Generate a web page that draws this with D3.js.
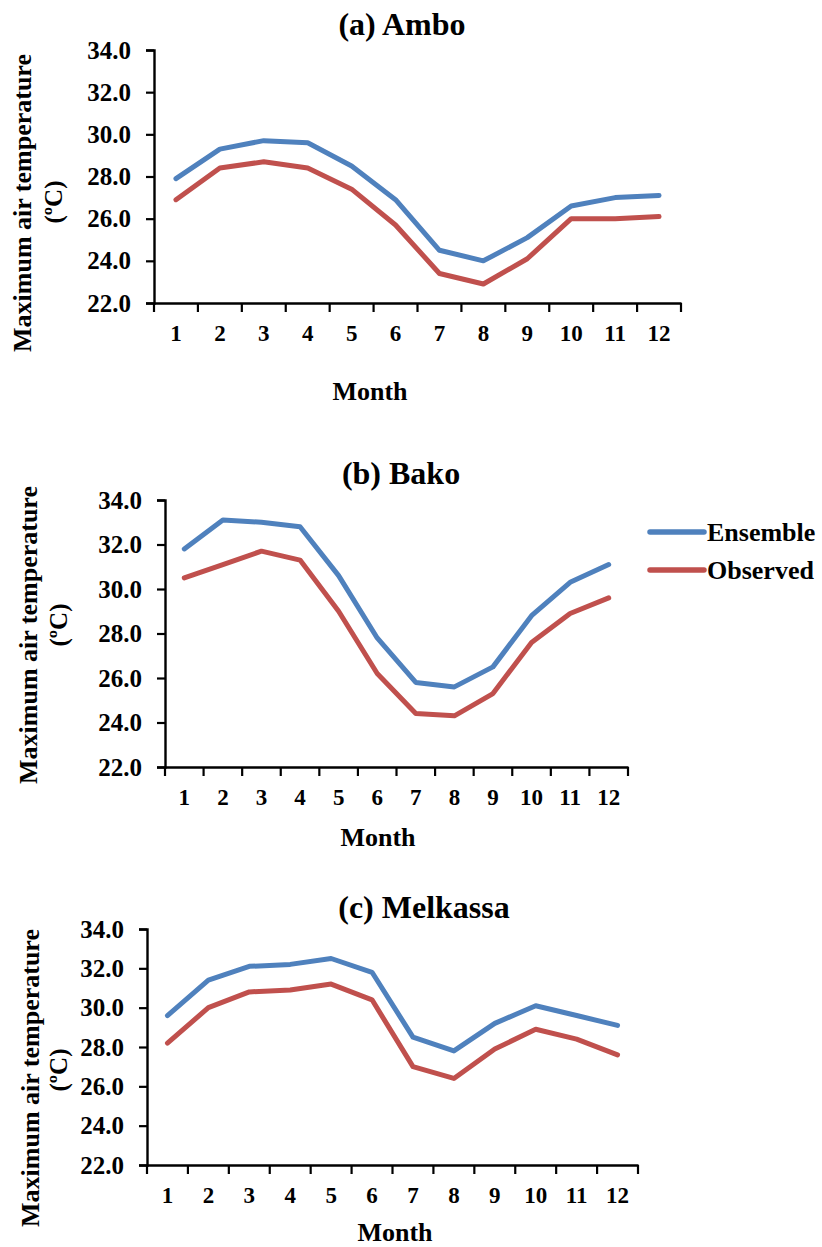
<!DOCTYPE html>
<html>
<head>
<meta charset="utf-8">
<script src="https://cdn.jsdelivr.net/npm/d3@7"></script>
<style>
  html, body { margin: 0; padding: 0; background: #fff; }
  svg text { font-family: "Liberation Serif", "Times New Roman", serif; font-weight: bold; fill: #000; }
</style>
</head>
<body>
<svg id="chart" width="822" height="1247"></svg>
<script>
// Monthly mean maximum air temperature (°C), ensemble vs observed
const months = ["1", "2", "3", "4", "5", "6", "7", "8", "9", "10", "11", "12"];
const yTicks = [22, 24, 26, 28, 30, 32, 34];
const seriesNames = ["Ensemble", "Observed"];
const seriesColors = ["#4F81BD", "#C0504D"];

const amboEnsemble   = [27.9, 29.3, 29.7, 29.6, 28.5, 26.9, 24.5, 24.0, 25.1, 26.6, 27.0, 27.1];
const amboObserved   = [26.9, 28.4, 28.7, 28.4, 27.4, 25.7, 23.4, 22.9, 24.1, 26.0, 26.0, 26.1];
const bakoEnsemble   = [31.8, 33.1, 33.0, 32.8, 30.6, 27.8, 25.8, 25.6, 26.5, 28.8, 30.3, 31.1];
const bakoObserved   = [30.5, 31.1, 31.7, 31.3, 29.0, 26.2, 24.4, 24.3, 25.3, 27.6, 28.9, 29.6];
const melkassaEnsemble = [29.6, 31.4, 32.1, 32.2, 32.5, 31.8, 28.5, 27.8, 29.2, 30.1, 29.6, 29.1];
const melkassaObserved = [28.2, 30.0, 30.8, 30.9, 31.2, 30.4, 27.0, 26.4, 27.9, 28.9, 28.4, 27.6];

const panels = [
  { title: "(a) Ambo", series: [amboEnsemble, amboObserved],
    left: 154, right: 681, top: 50, bottom: 303,
    titleX: 402, titleY: 35, monthX: 370, monthY: 400,
    yTitleX: 22, yTitleY: 203, unitX: 53, unitY: 202 },
  { title: "(b) Bako", series: [bakoEnsemble, bakoObserved],
    left: 165, right: 628, top: 500, bottom: 767,
    titleX: 401, titleY: 484, monthX: 378, monthY: 846,
    yTitleX: 28, yTitleY: 635, unitX: 58, unitY: 625, legend: true },
  { title: "(c) Melkassa", series: [melkassaEnsemble, melkassaObserved],
    left: 147, right: 638, top: 929, bottom: 1165,
    titleX: 424, titleY: 918, monthX: 395, monthY: 1241,
    yTitleX: 30, yTitleY: 1078, unitX: 58, unitY: 1070 }
];

const svg = d3.select("#chart");
svg.append("rect").attr("width", 822).attr("height", 1247).attr("fill", "#fff");

panels.forEach(p => {
  const g = svg.append("g");
  const x = d3.scaleBand().domain(months).range([p.left, p.right]);
  const y = d3.scaleLinear().domain([22, 34]).range([p.bottom, p.top]);
  const cx = m => x(m) + x.bandwidth() / 2;

  // panel title
  g.append("text").attr("x", p.titleX).attr("y", p.titleY)
    .attr("text-anchor", "middle").attr("font-size", 32).text(p.title);

  // y axis
  const yAxis = g.append("g").attr("transform", `translate(${p.left},0)`)
    .call(d3.axisLeft(y).tickValues(yTicks).tickFormat(d3.format(".1f")).tickSize(8).tickPadding(15));
  yAxis.select(".domain").attr("stroke", "#000").attr("stroke-width", 2.4);
  yAxis.selectAll(".tick line").attr("stroke", "#000").attr("stroke-width", 2.2);
  yAxis.selectAll(".tick text").attr("font-size", 25);

  // x axis: baseline with ticks at month boundaries
  const xAxis = g.append("g").attr("transform", `translate(0,${p.bottom})`)
    .call(d3.axisBottom(x).tickSize(0).tickPadding(22));
  xAxis.select(".domain").attr("stroke", "#000").attr("stroke-width", 2.4);
  xAxis.selectAll(".tick text").attr("font-size", 23);
  const bounds = months.map(m => x(m)).concat([p.right]);
  g.append("g").selectAll("line").data(bounds).join("line")
    .attr("x1", d => d).attr("x2", d => d)
    .attr("y1", p.bottom).attr("y2", p.bottom + 9)
    .attr("stroke", "#000").attr("stroke-width", 2.2);

  // axis titles
  g.append("text").attr("x", p.monthX).attr("y", p.monthY)
    .attr("text-anchor", "middle").attr("font-size", 26).text("Month");
  g.append("text").attr("transform", `translate(${p.yTitleX},${p.yTitleY}) rotate(-90)`)
    .attr("text-anchor", "middle").attr("dy", "0.35em").attr("font-size", 26)
    .text("Maximum air temperature");
  g.append("text").attr("transform", `translate(${p.unitX},${p.unitY}) rotate(-90)`)
    .attr("text-anchor", "middle").attr("dy", "0.35em").attr("font-size", 25)
    .text("(ºC)");

  // series lines
  const line = d3.line().x((d, i) => cx(months[i])).y(d => y(d));
  p.series.forEach((vals, si) => {
    g.append("path").datum(vals)
      .attr("d", line).attr("fill", "none")
      .attr("stroke", seriesColors[si]).attr("stroke-width", 5)
      .attr("stroke-linejoin", "round").attr("stroke-linecap", "round");
  });

  if (p.legend) {
    const lg = g.append("g");
    seriesNames.forEach((name, i) => {
      const ly = 532 + i * 38;
      lg.append("line").attr("x1", 650).attr("x2", 704).attr("y1", ly).attr("y2", ly)
        .attr("stroke", seriesColors[i]).attr("stroke-width", 5.5).attr("stroke-linecap", "round");
      lg.append("text").attr("x", 707).attr("y", ly).attr("dy", "0.34em")
        .attr("font-size", 26).text(name);
    });
  }
});
</script>
</body>
</html>
